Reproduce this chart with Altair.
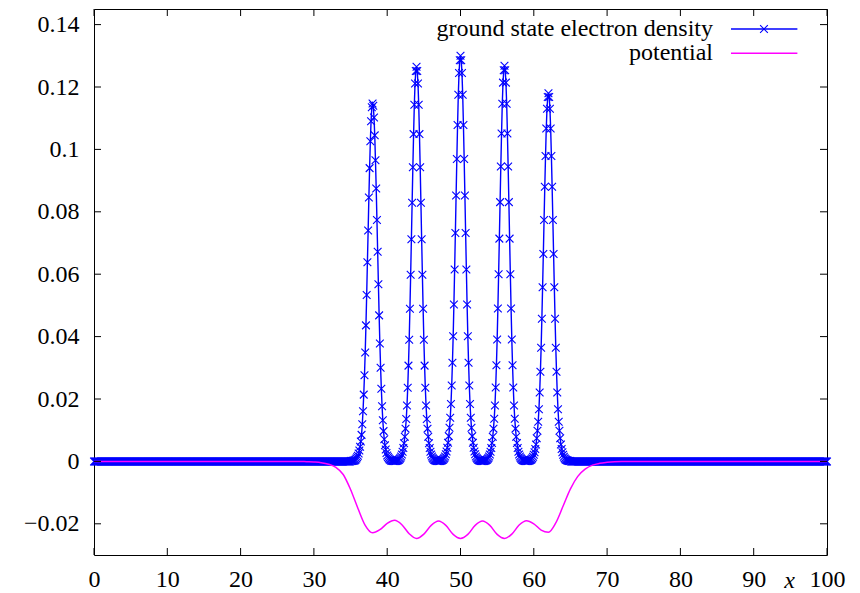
import altair as alt
import pandas as pd

# ---------------- data ----------------
# density sampled every 0.1 in x; each peak list starts at (center - 3.0)
peak_centers = [38, 44, 50, 56, 62]
peak_38 = [0.0001, 0.0001, 0.0001, 0.0002, 0.0002, 0.0003, 0.0004, 0.0006, 0.0009, 0.0013,
           0.0018, 0.0025, 0.0035, 0.0047, 0.0064, 0.0085, 0.0119, 0.0161, 0.0214, 0.0276,
           0.0349, 0.0436, 0.0533, 0.0638, 0.0740, 0.0846, 0.0940, 0.1026, 0.1090, 0.1135,
           0.1147, 0.1140, 0.1102, 0.1045, 0.0965, 0.0875, 0.0774, 0.0672, 0.0568, 0.0468,
           0.0378, 0.0300, 0.0233, 0.0177, 0.0132, 0.0097, 0.0071, 0.0052, 0.0038, 0.0027,
           0.0019, 0.0014, 0.0010, 0.0007, 0.0005, 0.0003, 0.0002, 0.0002, 0.0001, 0.0001]
peak_44 = [0.0001, 0.0001, 0.0001, 0.0002, 0.0003, 0.0004, 0.0005, 0.0008, 0.0011, 0.0016,
           0.0022, 0.0031, 0.0043, 0.0058, 0.0079, 0.0105, 0.0136, 0.0179, 0.0236, 0.0307,
           0.0390, 0.0489, 0.0598, 0.0712, 0.0829, 0.0943, 0.1049, 0.1143, 0.1211, 0.1251,
           0.1265, 0.1251, 0.1211, 0.1143, 0.1049, 0.0943, 0.0829, 0.0712, 0.0598, 0.0489,
           0.0390, 0.0307, 0.0236, 0.0179, 0.0136, 0.0105, 0.0079, 0.0058, 0.0043, 0.0031,
           0.0022, 0.0016, 0.0011, 0.0008, 0.0005, 0.0004, 0.0003, 0.0002, 0.0001, 0.0001]
peak_50 = [0.0001, 0.0001, 0.0001, 0.0002, 0.0003, 0.0004, 0.0005, 0.0008, 0.0011, 0.0016,
           0.0023, 0.0032, 0.0044, 0.0060, 0.0081, 0.0108, 0.0140, 0.0184, 0.0243, 0.0316,
           0.0401, 0.0503, 0.0615, 0.0732, 0.0852, 0.0969, 0.1078, 0.1175, 0.1245, 0.1286,
           0.1300, 0.1286, 0.1245, 0.1175, 0.1078, 0.0969, 0.0852, 0.0732, 0.0615, 0.0503,
           0.0401, 0.0316, 0.0243, 0.0184, 0.0140, 0.0108, 0.0081, 0.0060, 0.0044, 0.0032,
           0.0023, 0.0016, 0.0011, 0.0008, 0.0005, 0.0004, 0.0003, 0.0002, 0.0001, 0.0001]
peak_56 = [0.0001, 0.0001, 0.0001, 0.0002, 0.0003, 0.0004, 0.0005, 0.0008, 0.0011, 0.0016,
           0.0022, 0.0031, 0.0043, 0.0059, 0.0079, 0.0105, 0.0137, 0.0179, 0.0237, 0.0308,
           0.0391, 0.0490, 0.0600, 0.0714, 0.0831, 0.0945, 0.1051, 0.1146, 0.1214, 0.1254,
           0.1268, 0.1254, 0.1214, 0.1146, 0.1051, 0.0945, 0.0831, 0.0714, 0.0600, 0.0490,
           0.0391, 0.0308, 0.0237, 0.0179, 0.0137, 0.0105, 0.0079, 0.0059, 0.0043, 0.0031,
           0.0022, 0.0016, 0.0011, 0.0008, 0.0005, 0.0004, 0.0003, 0.0002, 0.0001, 0.0001]
peak_62 = [0.0001, 0.0001, 0.0001, 0.0002, 0.0003, 0.0004, 0.0005, 0.0007, 0.0010, 0.0015,
           0.0021, 0.0029, 0.0040, 0.0054, 0.0074, 0.0098, 0.0127, 0.0167, 0.0221, 0.0287,
           0.0364, 0.0457, 0.0558, 0.0665, 0.0774, 0.0880, 0.0979, 0.1067, 0.1130, 0.1168,
           0.1180, 0.1168, 0.1130, 0.1067, 0.0979, 0.0880, 0.0774, 0.0665, 0.0558, 0.0457,
           0.0364, 0.0287, 0.0221, 0.0167, 0.0127, 0.0098, 0.0074, 0.0054, 0.0040, 0.0029,
           0.0021, 0.0015, 0.0010, 0.0007, 0.0005, 0.0004, 0.0003, 0.0002, 0.0001, 0.0001, 0.0001]
peak_lists = [peak_38, peak_44, peak_50, peak_56, peak_62]

pot_x = [0, 28, 29, 30, 31, 32, 33, 34, 35, 36, 37, 38, 39, 40, 41, 42, 43, 44, 45, 46, 47,
         48, 49, 50, 51, 52, 53, 54, 55, 56, 57, 58, 59, 60, 61, 62, 63, 64, 65, 66, 67, 68,
         69, 70, 71, 72, 100]
pot_y = [0.0, 0.0, -0.0001, -0.0002, -0.0004, -0.0009, -0.0019, -0.0042, -0.0090, -0.0150,
         -0.0205, -0.0229, -0.0219, -0.0199, -0.0189, -0.0203, -0.0232, -0.0247, -0.0233,
         -0.0205, -0.0191, -0.0205, -0.0234, -0.0247, -0.0234, -0.0205, -0.0191, -0.0205,
         -0.0234, -0.0247, -0.0233, -0.0204, -0.0190, -0.0200, -0.0220, -0.0227, -0.0197,
         -0.0143, -0.0088, -0.0048, -0.0025, -0.0012, -0.0006, -0.0003, -0.0001, 0.0, 0.0]

x_ticks = [0, 10, 20, 30, 40, 50, 60, 70, 80, 90, 100]
y_ticks = [-0.02, 0.0, 0.02, 0.04, 0.06, 0.08, 0.1, 0.12, 0.14]
legend_labels = ["ground state electron density", "potential"]

# ---------------- tables ----------------
dens = {i: 0.0 for i in range(1001)}
for c, vals in zip(peak_centers, peak_lists):
    start = (c - 3) * 10
    for k, v in enumerate(vals):
        dens[start + k] = v
dens_df = pd.DataFrame({"x": [i / 10 for i in dens], "y": list(dens.values())})
pot_df = pd.DataFrame({"x": pot_x, "y": pot_y})

XD = [0, 100]
YD = [-0.03, 0.145]
xs = alt.Scale(domain=XD, nice=False, zero=False)
ys = alt.Scale(domain=YD, nice=False, zero=False)
BLUE = "#0000ff"
MAG = "#ff00ff"
XPATH = "M-1,-1L1,1M-1,1L1,-1"
FONT = "Liberation Serif"
FS = 24

AX = alt.Axis(values=x_ticks, format="d", title="x",
              titleFont=FONT, titleFontSize=FS, titleFontStyle="italic",
              titleFontWeight="normal", titleColor="black",
              titleX=695, titleY=32, titleBaseline="alphabetic",
              titleAlign="center", labelPadding=12, labelFlush=False,
              labelOverlap=False,
              labelFont=FONT, labelFontSize=FS, labelColor="black",
              ticks=False, domain=False, grid=False)
AY = alt.Axis(values=y_ticks, format="~g", title=None, labelPadding=15,
              labelFlush=False, labelOverlap=False,
              labelFont=FONT, labelFontSize=FS, labelColor="black",
              ticks=False, domain=False, grid=False)


def X(field="x"):
    return alt.X(f"{field}:Q", scale=xs, axis=AX, title="x")


def Y(field="y"):
    return alt.Y(f"{field}:Q", scale=ys, axis=AY, title=None)


dens_line = alt.Chart(dens_df).mark_line(color=BLUE, stroke=BLUE, strokeWidth=1.4, clip=False).encode(
    x=X(), y=Y())
dens_pts = alt.Chart(dens_df).mark_point(shape=XPATH, filled=False, color=BLUE, stroke=BLUE, size=60,
                                          strokeWidth=1.1, opacity=1, clip=False).encode(x=X(), y=Y())
pot_line = alt.Chart(pot_df).mark_line(color=MAG, stroke=MAG, strokeWidth=1.5,
                                        interpolate="monotone").encode(x=X(), y=Y())

# inward tick marks (gnuplot style), drawn through the scales
tk_len_y = 7 / 3120
tk_len_x = 7 / 7.33
tick_rows = []
for v in x_ticks:
    tick_rows.append({"x": v, "x2": v, "y": YD[0], "y2": YD[0] + tk_len_y})
    tick_rows.append({"x": v, "x2": v, "y": YD[1], "y2": YD[1] - tk_len_y})
for v in y_ticks:
    tick_rows.append({"x": XD[0], "x2": XD[0] + tk_len_x, "y": v, "y2": v})
    tick_rows.append({"x": XD[1], "x2": XD[1] - tk_len_x, "y": v, "y2": v})
ticks = alt.Chart(pd.DataFrame(tick_rows)).mark_rule(color="black", strokeWidth=1).encode(
    x=X(), x2="x2:Q", y=Y(), y2="y2:Q")

# legend (label left, sample right, as gnuplot does)
leg_y = [0.1386, 0.1308]
leg_text = alt.Chart(pd.DataFrame({"label": legend_labels, "x": [84.45, 84.45], "y": leg_y})).mark_text(
    align="right", baseline="middle", font=FONT, fontSize=24, color="black").encode(
    x=X(), y=Y(), text="label:N")
leg_blue = alt.Chart(pd.DataFrame({"x": [86.9], "x2": [95.96], "y": [leg_y[0]]})).mark_rule(
    color=BLUE, strokeWidth=1.4).encode(x=X(), x2="x2:Q", y=Y())
leg_mark = alt.Chart(pd.DataFrame({"x": [91.4], "y": [leg_y[0]]})).mark_point(
    shape=XPATH, filled=False, color=BLUE, size=60, strokeWidth=1.1, opacity=1).encode(x=X(), y=Y())
leg_mag = alt.Chart(pd.DataFrame({"x": [86.9], "x2": [95.96], "y": [leg_y[1]]})).mark_rule(
    color=MAG, strokeWidth=1.5).encode(x=X(), x2="x2:Q", y=Y())

chart = alt.layer(dens_line, dens_pts, pot_line, ticks, leg_text, leg_blue, leg_mark, leg_mag).properties(
    width=733, height=546,
    padding={"left": 86, "top": 1, "right": 25, "bottom": 37},
    autosize=alt.AutoSizeParams(type="none"),
    background="white",
).configure_view(stroke="black", strokeWidth=1)

chart.save("out.html", embed_options={"renderer": "svg", "actions": False})
